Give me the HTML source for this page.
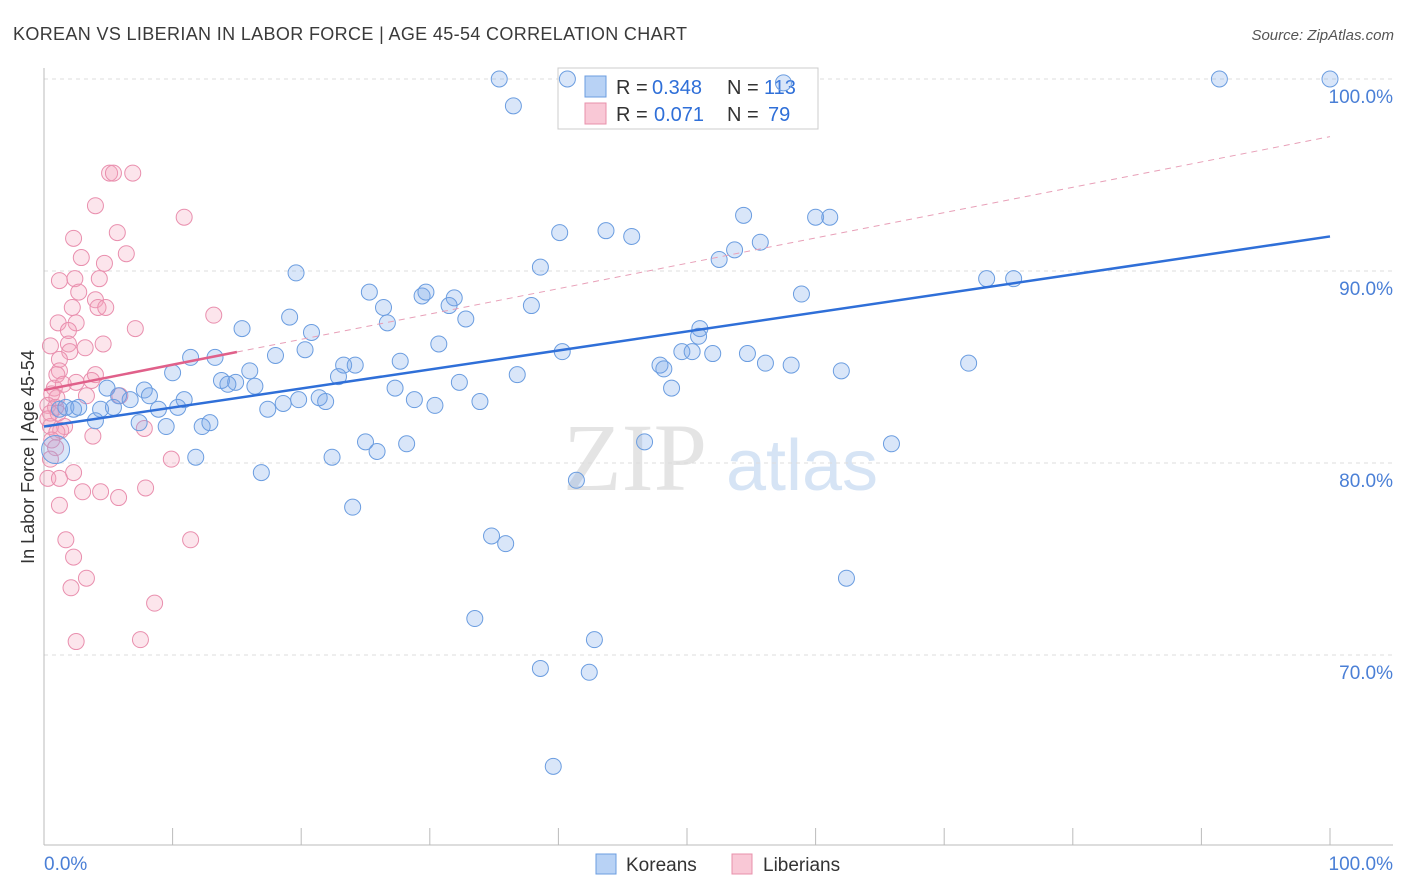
<!DOCTYPE html>
<html><head><meta charset="utf-8"><style>
body{margin:0;background:#fff;font-family:"Liberation Sans",sans-serif;}
#wrap{position:relative;width:1406px;height:892px;overflow:hidden;}
</style></head><body><div id="wrap">
<svg id="svg" width="1406" height="892" xmlns="http://www.w3.org/2000/svg">
<text x="13" y="40" font-size="18" fill="#3a3a3a" textLength="674" lengthAdjust="spacing">KOREAN VS LIBERIAN IN LABOR FORCE | AGE 45-54 CORRELATION CHART</text>
<text x="1394" y="40" font-size="15" fill="#555" font-style="italic" text-anchor="end">Source: ZipAtlas.com</text>
<text x="34" y="457" font-size="18" fill="#333" text-anchor="middle" transform="rotate(-90 34 457)">In Labor Force | Age 45-54</text>
<g><text x="635" y="490" font-size="96" fill="#e4e4e4" font-family="Liberation Serif,serif" text-anchor="middle">ZIP</text><text x="802" y="490" font-size="72" fill="#d6e4f5" text-anchor="middle">atlas</text></g>
<g id="grid"></g><g id="axes"></g>
<g>
<rect x="558" y="68" width="260" height="61" fill="#fff" stroke="#ccc"/>
<rect x="585" y="76" width="21" height="21" fill="#b8d2f5" stroke="#6b9de0"/>
<rect x="585" y="103" width="21" height="21" fill="#f9c8d6" stroke="#e890ab"/>
<text x="616" y="94" font-size="20" fill="#333">R =</text><text x="652" y="94" font-size="20" fill="#2f6fd8">0.348</text>
<text x="727" y="94" font-size="20" fill="#333">N =</text><text x="764" y="94" font-size="20" fill="#2f6fd8">113</text>
<text x="616" y="121" font-size="20" fill="#333">R =</text><text x="654" y="121" font-size="20" fill="#2f6fd8">0.071</text>
<text x="727" y="121" font-size="20" fill="#333">N =</text><text x="768" y="121" font-size="20" fill="#2f6fd8">79</text>
</g>
<g id="pink"></g><g id="blue"></g><g id="lines"></g>
<g>
<rect x="596" y="854" width="20" height="20" fill="#b8d2f5" stroke="#6b9de0"/>
<text x="626" y="871" font-size="19" fill="#333">Koreans</text>
<rect x="732" y="854" width="20" height="20" fill="#f9c8d6" stroke="#e890ab"/>
<text x="763" y="871" font-size="19" fill="#333">Liberians</text>
</g>
</svg></div>
<script>
const yTicks=[100,90,80,70];
const yTickLabels=["100.0%","90.0%","80.0%","70.0%"];
const xEndLabels=["0.0%","100.0%"];
const blueX=[35.4,40.7,57.5,91.4,100,36.5,40.1,43.7,45.7,54.4,60.0,61.1,53.7,55.7,52.5,19.6,38.6,73.3,75.4,25.3,29.4,29.7,31.9,31.5,26.4,37.9,58.9,19.1,32.8,26.7,15.4,20.8,51.0,50.9,30.7,20.3,40.3,49.6,50.4,52.0,54.7,11.4,13.3,18.0,27.7,23.3,24.2,47.9,48.2,56.1,58.1,71.9,62.0,10.0,16.0,36.8,22.9,32.3,13.8,14.9,14.3,16.4,27.3,48.8,4.9,7.8,8.2,5.8,6.7,28.8,33.9,21.4,21.9,19.8,18.6,10.9,10.4,8.9,4.4,1.2,1.7,2.3,2.7,5.4,17.4,30.4,4.0,7.4,9.5,12.3,12.9,11.8,22.4,25.0,25.9,28.2,46.7,65.9,16.9,41.4,24.0,34.8,35.9,62.4,33.5,42.8,38.6,42.4,39.6,0.9];
const blueY=[100,100,99.8,100,100,98.6,92.0,92.1,91.8,92.9,92.8,92.8,91.1,91.5,90.6,89.9,90.2,89.6,89.6,88.9,88.7,88.9,88.6,88.2,88.1,88.2,88.8,87.6,87.5,87.3,87.0,86.8,87.0,86.6,86.2,85.9,85.8,85.8,85.8,85.7,85.7,85.5,85.5,85.6,85.3,85.1,85.1,85.1,84.9,85.2,85.1,85.2,84.8,84.7,84.8,84.6,84.5,84.2,84.3,84.2,84.1,84.0,83.9,83.9,83.9,83.8,83.5,83.5,83.3,83.3,83.2,83.4,83.2,83.3,83.1,83.3,82.9,82.8,82.8,82.8,82.9,82.8,82.9,82.9,82.8,83.0,82.2,82.1,81.9,81.9,82.1,80.3,80.3,81.1,80.6,81.0,81.1,81.0,79.5,79.1,77.7,76.2,75.8,74.0,71.9,70.8,69.3,69.1,64.2,80.7];
const pinkX=[5.1,5.4,6.9,4.0,10.9,5.7,2.3,6.4,2.9,4.7,1.2,2.4,4.3,2.7,4.0,2.2,4.2,4.8,13.2,1.1,2.5,7.1,1.9,4.6,3.2,1.9,0.5,2.0,1.2,1.2,1.0,4.0,2.5,0.8,1.5,3.7,3.3,0.6,1.0,0.3,0.9,0.5,1.6,0.5,1.3,1.0,7.8,0.6,3.8,0.9,0.3,2.3,1.2,9.9,5.8,1.2,3.0,4.4,7.9,1.7,2.3,3.3,2.1,8.6,11.4,2.5,7.5,0.5,1.1,0.3,5.9];
const pinkY=[95.1,95.1,95.1,93.4,92.8,92.0,91.7,90.9,90.7,90.4,89.5,89.6,89.6,88.9,88.5,88.1,88.1,88.1,87.7,87.3,87.3,87.0,86.9,86.2,86.0,86.2,86.1,85.8,85.4,84.8,84.6,84.6,84.2,83.9,84.1,84.3,83.5,83.6,83.4,83.0,82.9,82.6,81.9,81.9,81.7,81.6,81.8,81.2,81.4,80.8,79.2,79.5,79.2,80.2,78.2,77.8,78.5,78.5,78.7,76.0,75.1,74.0,73.5,72.7,76.0,70.7,70.8,80.2,82.6,82.3,83.5];
const blueTrend=[81.9,91.8];
const pinkTrend=[83.8,97.0];
const pinkSolidEnd=15;
const NS="http://www.w3.org/2000/svg";
const sx=v=>44+v*12.86;
const sy=v=>79+(100-v)*19.2;
function mk(tag,attrs,parent){const e=document.createElementNS(NS,tag);for(const k in attrs)e.setAttribute(k,attrs[k]);document.getElementById(parent).appendChild(e);return e;}
yTicks.forEach((t,i)=>{
 const l=mk('line',{x1:44,x2:1393,y1:sy(t),y2:sy(t),stroke:'#ddd','stroke-dasharray':'4,4'},'grid');
 
 
 const tx=mk('text',{x:1393,y:sy(t)+24,'font-size':19,fill:'#4a7fd6','text-anchor':'end'},'grid');
 tx.textContent=yTickLabels[i];
 
 
});
mk('line',{x1:44,x2:44,y1:68,y2:845,stroke:'#bbb'},'axes');
mk('line',{x1:44,x2:1393,y1:845,y2:845,stroke:'#bbb'},'axes');
for(let i=0;i<=10;i++){const t=mk('line',{x1:sx(i*10),x2:sx(i*10),y1:828,y2:845,stroke:'#bbb'},'axes');
 
 }
const xl0=mk('text',{x:44,y:870,'font-size':19,fill:'#4a7fd6'},'axes');xl0.textContent=xEndLabels[0];


const xl1=mk('text',{x:1393,y:870,'font-size':19,fill:'#4a7fd6','text-anchor':'end'},'axes');xl1.textContent=xEndLabels[1];


pinkX.forEach((x,i)=>{const c=mk('circle',{cx:sx(x),cy:sy(pinkY[i]),r:8,fill:'rgba(244,160,188,0.28)',stroke:'#e98fae','stroke-width':1},'pink');
 
 });
blueX.forEach((x,i)=>{const c=mk('circle',{cx:sx(x),cy:sy(blueY[i]),r:(i==blueX.length-1?14:8),fill:'rgba(120,165,235,0.28)',stroke:'#6b9de0','stroke-width':1},'blue');
 
 });
const bl=mk('line',{x1:sx(0),y1:sy(blueTrend[0]),x2:sx(100),y2:sy(blueTrend[1]),stroke:'#2f6fd8','stroke-width':2.5},'lines');


const pv=x=>pinkTrend[0]+(pinkTrend[1]-pinkTrend[0])*x/100;
const pd=mk('line',{x1:sx(pinkSolidEnd),y1:sy(pv(pinkSolidEnd)),x2:sx(100),y2:sy(pv(100)),stroke:'#e8a0b8','stroke-width':1,'stroke-dasharray':'6,5'},'lines');


const ps=mk('line',{x1:sx(0),y1:sy(pv(0)),x2:sx(pinkSolidEnd),y2:sy(pv(pinkSolidEnd)),stroke:'#e0608a','stroke-width':2.5},'lines');


</script></body></html>
